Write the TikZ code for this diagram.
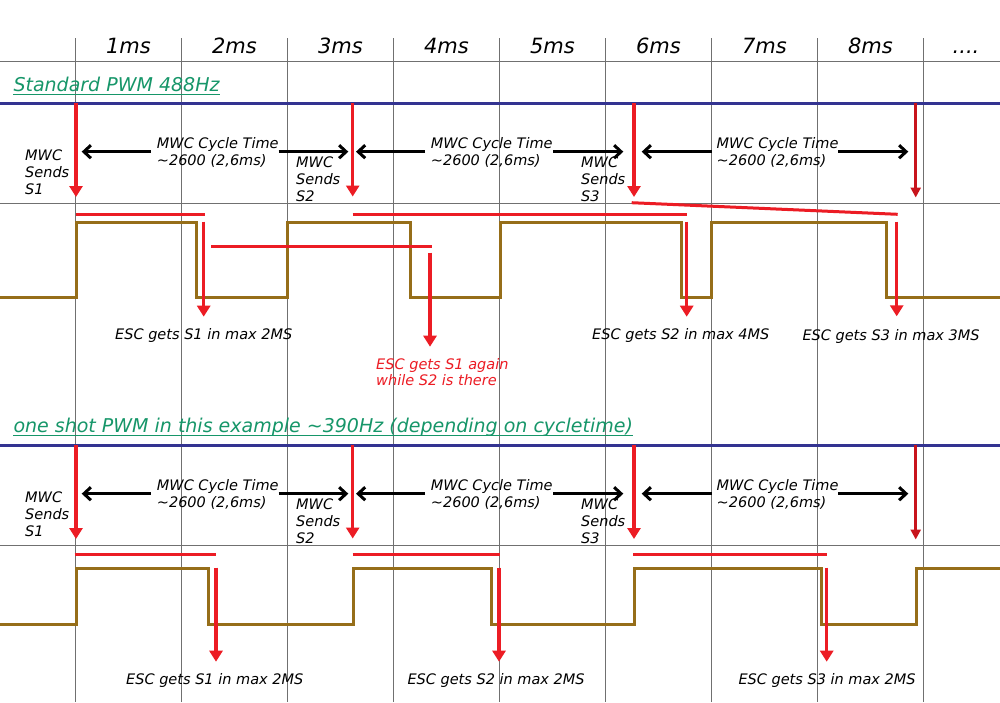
\documentclass[tikz,border=0pt]{standalone}
\usepackage{fontspec}
\setmainfont{DejaVu Sans}
\usetikzlibrary{arrows.meta}
\definecolor{gridc}{RGB}{112,112,112}
\definecolor{bluec}{RGB}{51,51,145}
\definecolor{brownc}{RGB}{150,110,25}
\definecolor{redc}{RGB}{236,28,36}
\definecolor{darkredc}{RGB}{200,20,28}
\definecolor{greenc}{RGB}{22,150,105}
\begin{document}
\begin{tikzpicture}[x=1pt,y=-1pt,
 gridl/.style={gridc, line width=1pt},
 bluel/.style={bluec, line width=3pt},
 wave/.style={brownc, line width=3pt, line join=miter},
 redl/.style={redc, line width=3.5pt},
 redarr/.style={redc, line width=3.5pt, -{Triangle[length=11pt,width=13pt]}},
 dredarr/.style={darkredc, line width=2.8pt, -{Triangle[length=10pt,width=10pt]}},
 blkarr/.style={black, line width=3pt, -{Straight Barb[length=7pt,width=13pt]}},
 hdr/.style={font=\fontsize{21}{25}\selectfont\itshape, inner sep=0, anchor=base},
 ttl/.style={text=greenc, font=\fontsize{19}{23}\selectfont\itshape, inner sep=0, anchor=base west},
 lbl/.style={font=\fontsize{14.5}{17}\selectfont\itshape, inner sep=0, anchor=base west},
 rlbl/.style={lbl, text=redc},
 uline/.style={greenc, line width=1.3pt},
]
\useasboundingbox[fill=white] (0,0) rectangle (1000,702);

% ---------- grid ----------
\foreach \x in {75.5,181.5,287.5,393.5,499.5,605.5,711.5,817.5,923.5}
  \draw[gridl] (\x,38) -- (\x,702);
\foreach \y in {61.5,203,545}
  \draw[gridl] (0,\y) -- (1000,\y);

% ---------- header ----------
\node[hdr] (h1) at (128.5,53.3) {1ms};
\node[hdr] (h2) at (234.5,53.3) {2ms};
\node[hdr] (h3) at (340.5,53.3) {3ms};
\node[hdr] (h4) at (446.5,53.3) {4ms};
\node[hdr] (h5) at (552.5,53.3) {5ms};
\node[hdr] (h6) at (658.5,53.3) {6ms};
\node[hdr] (h7) at (764.5,53.3) {7ms};
\node[hdr] (h8) at (870.5,53.3) {8ms};
\node[hdr] (h9) at (966,53.3) {....};

% ---------- titles ----------
\node[ttl] (t1) at (13.3,91.3) {Standard PWM 488Hz};
\draw[uline] ([yshift=-3pt]t1.base west) -- ([yshift=-3pt]t1.base east);
\node[ttl] (t2) at (13.3,432.3) {one shot PWM in this example \textasciitilde390Hz (depending on cycletime)};
\draw[uline] ([yshift=-3pt]t2.base west) -- ([yshift=-3pt]t2.base east);

% ---------- blue lines ----------
\draw[bluel] (0,103) -- (1000,103);
\draw[bluel] (0,445) -- (1000,445);

% ---------- waveforms ----------
\draw[wave] (-5,297.3) -- (76,297.3) -- (76,222.3) -- (196.7,222.3) -- (196.7,297.3)
  -- (287.3,297.3) -- (287.3,222.3) -- (410.7,222.3) -- (410.7,297.3)
  -- (500,297.3) -- (500,222.3) -- (681.7,222.3) -- (681.7,297.3)
  -- (711.3,297.3) -- (711.3,222.3) -- (886.7,222.3) -- (886.7,297.3) -- (1005,297.3);
\draw[wave] (-5,624) -- (76,624) -- (76,568.3) -- (208.7,568.3) -- (208.7,624)
  -- (353.3,624) -- (353.3,568.3) -- (491.7,568.3) -- (491.7,624)
  -- (634.3,624) -- (634.3,568.3) -- (821,568.3) -- (821,624)
  -- (916.7,624) -- (916.7,568.3) -- (1005,568.3);

% ---------- top section: MWC sends ----------
\foreach \dy/\sec in {0/top,342/bot}{
  \begin{scope}[yshift=-\dy pt]
  \draw[redarr] (76,103) -- (76,197);
  \draw[redarr] (352.7,103) -- (352.7,196.5);
  \draw[redarr] (634,103) -- (634,197);
  \draw[dredarr] (915.7,103) -- (915.7,197.5);
  % cycle time arrows
  \draw[blkarr] (150.7,151.7) -- (81.7,151.7);
  \draw[blkarr] (278.7,151.7) -- (348.3,151.7);
  \draw[blkarr] (425,151.7) -- (356,151.7);
  \draw[blkarr] (553.3,151.7) -- (623.3,151.7);
  \draw[blkarr] (711.7,151.7) -- (641.7,151.7);
  \draw[blkarr] (838.3,151.7) -- (908.3,151.7);
  \node[lbl] (c1a\sec) at (156.7,148.3) {MWC Cycle Time};
  \node[lbl] (c1b\sec) at (156.7,165.3) {\textasciitilde2600 (2,6ms)};
  \node[lbl] (c2a\sec) at (430.7,148.3) {MWC Cycle Time};
  \node[lbl] (c2b\sec) at (430.7,165.3) {\textasciitilde2600 (2,6ms)};
  \node[lbl] (c3a\sec) at (716.5,148.3) {MWC Cycle Time};
  \node[lbl] (c3b\sec) at (716.5,165.3) {\textasciitilde2600 (2,6ms)};
  % MWC sends labels
  \node[lbl] (m1a\sec) at (25,160.5) {MWC};
  \node[lbl] (m1b\sec) at (25,177.5) {Sends};
  \node[lbl] (m1c\sec) at (25,194.3) {S1};
  \node[lbl] (m2a\sec) at (296,167.5) {MWC};
  \node[lbl] (m2b\sec) at (296,184.5) {Sends};
  \node[lbl] (m2c\sec) at (296,201.3) {S2};
  \node[lbl] (m3a\sec) at (581,167.5) {MWC};
  \node[lbl] (m3b\sec) at (581,184.5) {Sends};
  \node[lbl] (m3c\sec) at (581,201.3) {S3};
  \end{scope}
}

% ---------- standard PWM: ESC receives ----------
\draw[redl] (76,214.3) -- (205,214.3);
\draw[redarr] (203.7,221.7) -- (203.7,316.7);
\draw[redl] (211,246.7) -- (432,246.7);
\draw[redarr] (430,252.7) -- (430,346.7);
\draw[redl] (352.7,214.3) -- (687.3,214.3);
\draw[redarr] (686.7,221.7) -- (686.7,316.7);
\draw[redc, line width=3pt] (631.7,202.7) -- (897.7,214.3);
\draw[redarr] (896.7,221.7) -- (896.7,316.3);

\node[lbl] (e1) at (115,339) {ESC gets S1 in max 2MS};
\node[rlbl] (e1b) at (376,369.3) {ESC gets S1 again};
\node[rlbl] (e1c) at (376,385.6) {while S2 is there};
\node[lbl] (e2) at (592,339) {ESC gets S2 in max 4MS};
\node[lbl] (e3) at (802.3,340.3) {ESC gets S3 in max 3MS};

% ---------- one shot: ESC receives ----------
\draw[redl] (74.7,554.3) -- (216.3,554.3);
\draw[redarr] (216,567.7) -- (216,661.7);
\draw[redl] (352.7,554.3) -- (500,554.3);
\draw[redarr] (499,567.7) -- (499,661.7);
\draw[redl] (633.3,554.3) -- (827.3,554.3);
\draw[redarr] (826.7,567.7) -- (826.7,661.7);

\node[lbl] (f1) at (126,684) {ESC gets S1 in max 2MS};
\node[lbl] (f2) at (407.3,684) {ESC gets S2 in max 2MS};
\node[lbl] (f3) at (738.3,684) {ESC gets S3 in max 2MS};
\end{tikzpicture}
\end{document}
